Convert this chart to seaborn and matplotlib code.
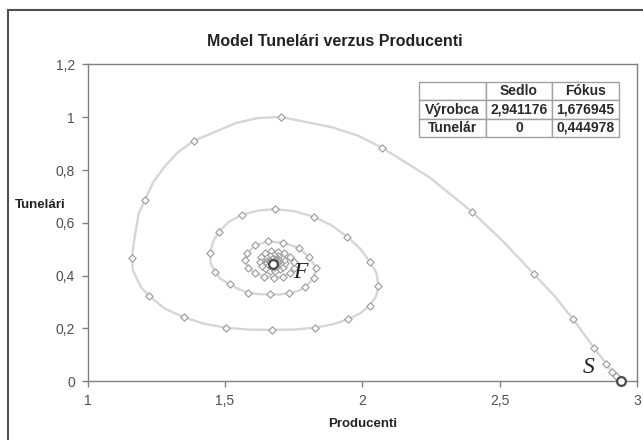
import matplotlib
matplotlib.use("Agg")
import matplotlib.pyplot as plt
import matplotlib.patches as mpatches
from matplotlib.ticker import FuncFormatter
import seaborn as sns
import pandas as pd

# ---- data ----
title = "Model Tunelári verzus Producenti"
x_label = "Producenti"
y_label = "Tunelári"

# trajectory markers (Producenti, Tunelári), in order from the saddle point
traj_x = [2.934, 2.922, 2.910, 2.888, 2.845, 2.767, 2.625, 2.399, 2.073, 1.704,
          1.386, 1.209, 1.162, 1.224, 1.350, 1.504, 1.670, 1.827, 1.948, 2.027,
          2.059, 2.028, 1.945, 1.824, 1.683, 1.562, 1.478, 1.447, 1.463, 1.517,
          1.585, 1.664, 1.735, 1.793, 1.823, 1.831, 1.807, 1.768, 1.710, 1.656,
          1.610, 1.581, 1.573, 1.584, 1.610, 1.644, 1.679, 1.711, 1.737, 1.752,
          1.752, 1.738, 1.716, 1.693, 1.668, 1.646, 1.632, 1.628, 1.634, 1.648,
          1.665, 1.683, 1.700, 1.712, 1.718, 1.715, 1.705, 1.692, 1.677, 1.664,
          1.655, 1.652, 1.654, 1.661, 1.670, 1.680, 1.690, 1.697, 1.700, 1.698,
          1.692, 1.685, 1.677, 1.670, 1.666, 1.665, 1.667, 1.671, 1.676, 1.682,
          1.687, 1.690, 1.690, 1.688, 1.684, 1.680]
traj_y = [0.008, 0.019, 0.035, 0.065, 0.124, 0.235, 0.405, 0.642, 0.884, 1.001,
          0.910, 0.687, 0.468, 0.323, 0.242, 0.202, 0.194, 0.202, 0.234, 0.286,
          0.360, 0.452, 0.547, 0.623, 0.652, 0.630, 0.566, 0.485, 0.415, 0.368,
          0.335, 0.328, 0.333, 0.356, 0.389, 0.428, 0.470, 0.505, 0.525, 0.529,
          0.514, 0.485, 0.457, 0.430, 0.409, 0.396, 0.392, 0.396, 0.408, 0.428,
          0.451, 0.472, 0.486, 0.490, 0.492, 0.484, 0.469, 0.452, 0.436, 0.424,
          0.418, 0.418, 0.423, 0.433, 0.446, 0.459, 0.470, 0.475, 0.477, 0.473,
          0.465, 0.455, 0.446, 0.438, 0.434, 0.433, 0.436, 0.442, 0.449, 0.456,
          0.461, 0.463, 0.463, 0.461, 0.456, 0.451, 0.446, 0.442, 0.440, 0.440,
          0.442, 0.446, 0.450, 0.454, 0.456, 0.455]

# extra points; mid_seg = index of the marker they follow
mid_seg = [5, 6, 7, 8, 8, 9, 9, 10, 10, 10, 11, 11, 12, 12, 13, 14, 15, 16,
           17, 18, 19, 20, 21, 22, 23, 24, 25, 26, 27, 28, 29, 30, 31, 32]
mid_x = [2.700, 2.515, 2.245, 1.985, 1.890, 1.620, 1.540, 1.330, 1.283, 1.240,
         1.186, 1.168, 1.165, 1.195, 1.280, 1.425, 1.587, 1.750, 1.892, 1.992,
         2.050, 2.052, 1.992, 1.888, 1.754, 1.621, 1.514, 1.456, 1.448, 1.485,
         1.550, 1.624, 1.700, 1.767]
mid_y = [0.322, 0.527, 0.772, 0.930, 0.962, 0.997, 0.978, 0.868, 0.816, 0.755,
         0.634, 0.522, 0.420, 0.355, 0.275, 0.217, 0.195, 0.195, 0.215, 0.256,
         0.320, 0.409, 0.502, 0.590, 0.643, 0.646, 0.603, 0.526, 0.448, 0.387,
         0.348, 0.329, 0.328, 0.342]

# equilibria (table values)
eq_names = ["Sedlo", "Fókus"]
eq_x = [2.941176, 1.676945]
eq_y = [0.0, 0.444978]
eq_x_txt = ["2,941176", "1,676945"]
eq_y_txt = ["0", "0,444978"]
row_names = ["Výrobca", "Tunelár"]

x_ticks = [1, 1.5, 2, 2.5, 3]
y_ticks = [0, 0.2, 0.4, 0.6, 0.8, 1.0, 1.2]

# ---- build line path ----
line_x, line_y = [], []
for i in range(len(traj_x)):
    line_x.append(traj_x[i]); line_y.append(traj_y[i])
    for j, s in enumerate(mid_seg):
        if s == i:
            line_x.append(mid_x[j]); line_y.append(mid_y[j])
line_x.append(eq_x[1]); line_y.append(eq_y[1])

line_df = pd.DataFrame({"x": line_x, "y": line_y})
mark_df = pd.DataFrame({"x": traj_x, "y": traj_y})
eq_df = pd.DataFrame({"x": eq_x, "y": eq_y})

# ---- style ----
sns.set_style("white")
plt.rcParams["font.family"] = ["Liberation Sans", "DejaVu Sans"]

W, H = 643, 440
fig = plt.figure(figsize=(W / 100, H / 100), dpi=100)
ax_l, ax_r, ax_t, ax_b = 87.5, 637, 64.5, 381
ax = fig.add_axes([ax_l / W, 1 - ax_b / H, (ax_r - ax_l) / W, (ax_b - ax_t) / H])

sns.lineplot(data=line_df, x="x", y="y", sort=False, estimator=None,
             color="#d6d6d6", linewidth=1.7, ax=ax, zorder=2)
sns.scatterplot(data=mark_df, x="x", y="y", marker="D", s=14,
                facecolor="white", edgecolor="#9a9a9a", linewidth=0.8,
                ax=ax, zorder=3)
sns.scatterplot(data=eq_df, x="x", y="y", marker="o", s=40,
                facecolor="white", edgecolor="#4a4a4a", linewidth=1.6,
                ax=ax, zorder=5, clip_on=False)

ax.set_xlim(1, 3)
ax.set_ylim(0, 1.2)
ax.set_xticks(x_ticks)
ax.set_yticks(y_ticks)
fmt = FuncFormatter(lambda v, p: ("%g" % v).replace(".", ","))
ax.xaxis.set_major_formatter(fmt)
ax.yaxis.set_major_formatter(fmt)
ax.tick_params(axis="both", direction="out", length=4, width=1, color="#808080",
               labelsize=10, labelcolor="#505050", pad=5,
               bottom=True, left=True)
for s in ax.spines.values():
    s.set_color("#808080")
    s.set_linewidth(1.0)
    s.set_visible(True)

ax.set_xlabel(x_label, fontsize=9.5, fontweight="bold", color="#222222")
ax.xaxis.set_label_coords(0.5, (ax_b - 424) / (ax_b - ax_t))
ax.xaxis.label.set_va("center")
ax.set_ylabel(y_label, fontsize=9.5, fontweight="bold", color="#222222",
              rotation=0, ha="center", va="center")
ax.yaxis.set_label_coords((40 - ax_l) / (ax_r - ax_l), (ax_b - 205) / (ax_b - ax_t))

fig.text(335 / W, 1 - 42 / H, title, ha="center", va="center",
         fontsize=11.5, fontweight="bold", color="#222222")

# annotations
ax.text(1.773, 0.41, "F", family=["Liberation Serif", "DejaVu Serif"],
        style="italic", fontsize=17, ha="center", va="center", color="#222222")
ax.text(2.825, 0.051, "S", family=["Liberation Serif", "DejaVu Serif"],
        style="italic", fontsize=17, ha="center", va="center", color="#222222")

# table
cells = [[""] + eq_names,
         [row_names[0]] + eq_x_txt,
         [row_names[1]] + eq_y_txt]
tb_l, tb_r, tb_t, tb_b = 419, 619, 82, 137
tbl = ax.table(cellText=cells, cellLoc="center",
               bbox=[(tb_l - ax_l) / (ax_r - ax_l), (ax_b - tb_b) / (ax_b - ax_t),
                     (tb_r - tb_l) / (ax_r - ax_l), (tb_b - tb_t) / (ax_b - ax_t)])
tbl.auto_set_font_size(False)
for (r, c), cell in tbl.get_celld().items():
    cell.set_edgecolor("#a0a0a0")
    cell.set_linewidth(1.0)
    cell.set_facecolor("white")
    cell.get_text().set_fontsize(10)
    cell.get_text().set_fontweight("bold")
    cell.get_text().set_color("#2a2a2a")
tbl.set_zorder(6)

# outer chart border (right and bottom edges fall outside the image)
fig.patches.append(mpatches.Rectangle((8 / W, -0.05), (660 - 8) / W, 1.05 - 10 / H,
                                      transform=fig.transFigure, fill=False,
                                      edgecolor="#505050", linewidth=1.5))

fig.savefig("out.png", dpi=100)
